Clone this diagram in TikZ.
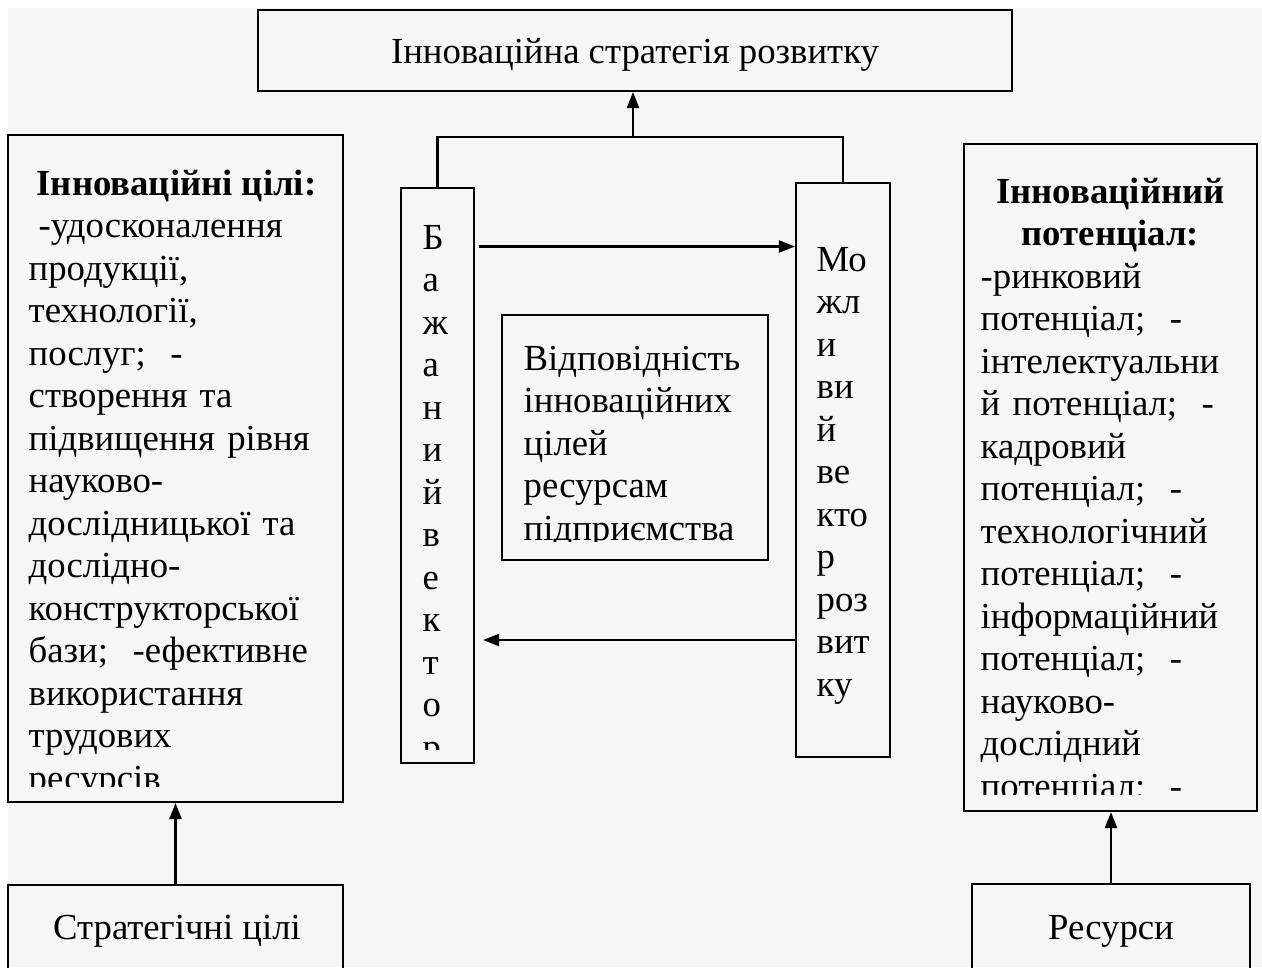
\documentclass[tikz,border=0pt]{standalone}
\usepackage{fontspec}
\setmainfont{Liberation Serif}
\usetikzlibrary{arrows.meta}
\definecolor{pagegray}{RGB}{246,246,246}

\begin{document}
\begin{tikzpicture}[
    box/.style={draw, rectangle, line width=0.6pt, inner sep=0pt},
    txt/.style={inner sep=0pt, font=\fontsize{10.45}{12.1}\selectfont},
    para/.style={txt, text width=#1, align=left, anchor=base west},
    link/.style={line width=0.6pt},
    arr/.style={link, -{Triangle[length=1.6mm,width=1.2mm]}}]

  % Page
  \useasboundingbox (0,0) rectangle (12.62,-9.67);
  \fill[white] (0,0) rectangle (12.62,-9.67);
  \fill[pagegray] (0.08,-0.08) rectangle (12.62,-9.67);

  % Boxes
  \node[box, minimum width=7.54cm, minimum height=0.81cm] (strat) at (6.35,-0.505) {};
  \node[box, minimum width=3.35cm, minimum height=6.67cm] (goals) at (1.755,-4.685) {};
  \node[box, minimum width=2.93cm, minimum height=6.67cm] (potential) at (11.105,-4.775) {};
  \node[box, minimum width=0.73cm, minimum height=5.75cm] (bazh) at (4.375,-4.755) {};
  \node[box, minimum width=0.94cm, minimum height=5.74cm] (mozh) at (8.43,-4.70) {};
  \node[box, minimum width=2.66cm, minimum height=2.45cm] (vidp) at (6.35,-4.375) {};
  \node[box, minimum width=3.35cm, minimum height=1.15cm] (strgoals) at (1.755,-9.425) {};
  \node[box, minimum width=2.78cm, minimum height=1.16cm] (resources) at (11.11,-9.42) {};

  % Box texts
  \node[txt, anchor=base] (stratT) at (6.35,-0.63) {Інноваційна стратегія розвитку};
  \node[txt, anchor=base] (goalsT) at (1.765,-1.95) {\bfseries Інноваційні цілі:};
  \begin{scope}
    \clip ([yshift=1.7mm]goals.south west) rectangle (goals.north east);
    \node[para=3.1cm] (goalsL) at (0.28,-2.375) {\hspace*{0.1cm}-удосконалення\\продукції,\\технології,\\послуг;~~-\\створення та\\підвищення рівня\\науково-\\дослідницької та\\дослідно-\\конструкторської\\бази;~~-ефективне\\використання\\трудових\\ресурсів};
  \end{scope}
  \node[para=2.8cm, align=center, anchor=base] (potT) at (11.105,-2.03) {\bfseries Інноваційний\\потенціал:};
  \begin{scope}
    \clip ([yshift=1.8mm]potential.south west) rectangle (potential.north east);
    \node[para=2.9cm] (potL) at (9.80,-2.88) {-ринковий\\потенціал;~~-\\інтелектуальни\\й потенціал;~~-\\кадровий\\потенціал;~~-\\технологічний\\потенціал;~~-\\інформаційний\\потенціал;~~-\\науково-\\дослідний\\потенціал;~~-};
  \end{scope}
  \begin{scope}
    \clip ([yshift=1.5mm]bazh.south west) rectangle (bazh.north east);
    \node[para=0.5cm] (bazhL) at (4.22,-2.49) {Б\\а\\ж\\а\\н\\и\\й\\в\\е\\к\\т\\о\\р};
  \end{scope}
  \node[para=0.7cm] (mozhL) at (8.16,-2.71) {Мо\\жл\\и\\ви\\й\\ве\\кто\\р\\роз\\вит\\ку};
  \begin{scope}
    \clip ([yshift=2mm]vidp.south west) rectangle (vidp.north east);
    \node[para=2.4cm] (vidpL) at (5.23,-3.70) {Відповідність\\інноваційних\\цілей\\ресурсам\\підприємства};
  \end{scope}
  \node[txt, anchor=base] (strgoalsT) at (1.77,-9.39) {Стратегічні цілі};
  \node[txt, anchor=base] (resourcesT) at (11.11,-9.39) {Ресурси};

  % Connectors
  \coordinate (fork) at (6.33,-1.37);
  \draw[link] (bazh.north) |- (fork) -| (mozh.north);
  \draw[arr] (fork) -- (fork |- strat.south);
  \coordinate (want) at (4.79,-2.465);
  \draw[arr] (want) -- (want -| mozh.west);
  \coordinate (can) at (4.83,-6.40);
  \draw[arr] (mozh.west |- can) -- (can);
  \draw[arr] (strgoals.north) -- (goals.south);
  \draw[arr] (resources.north) -- (resources.north |- potential.south);
\end{tikzpicture}
\end{document}
